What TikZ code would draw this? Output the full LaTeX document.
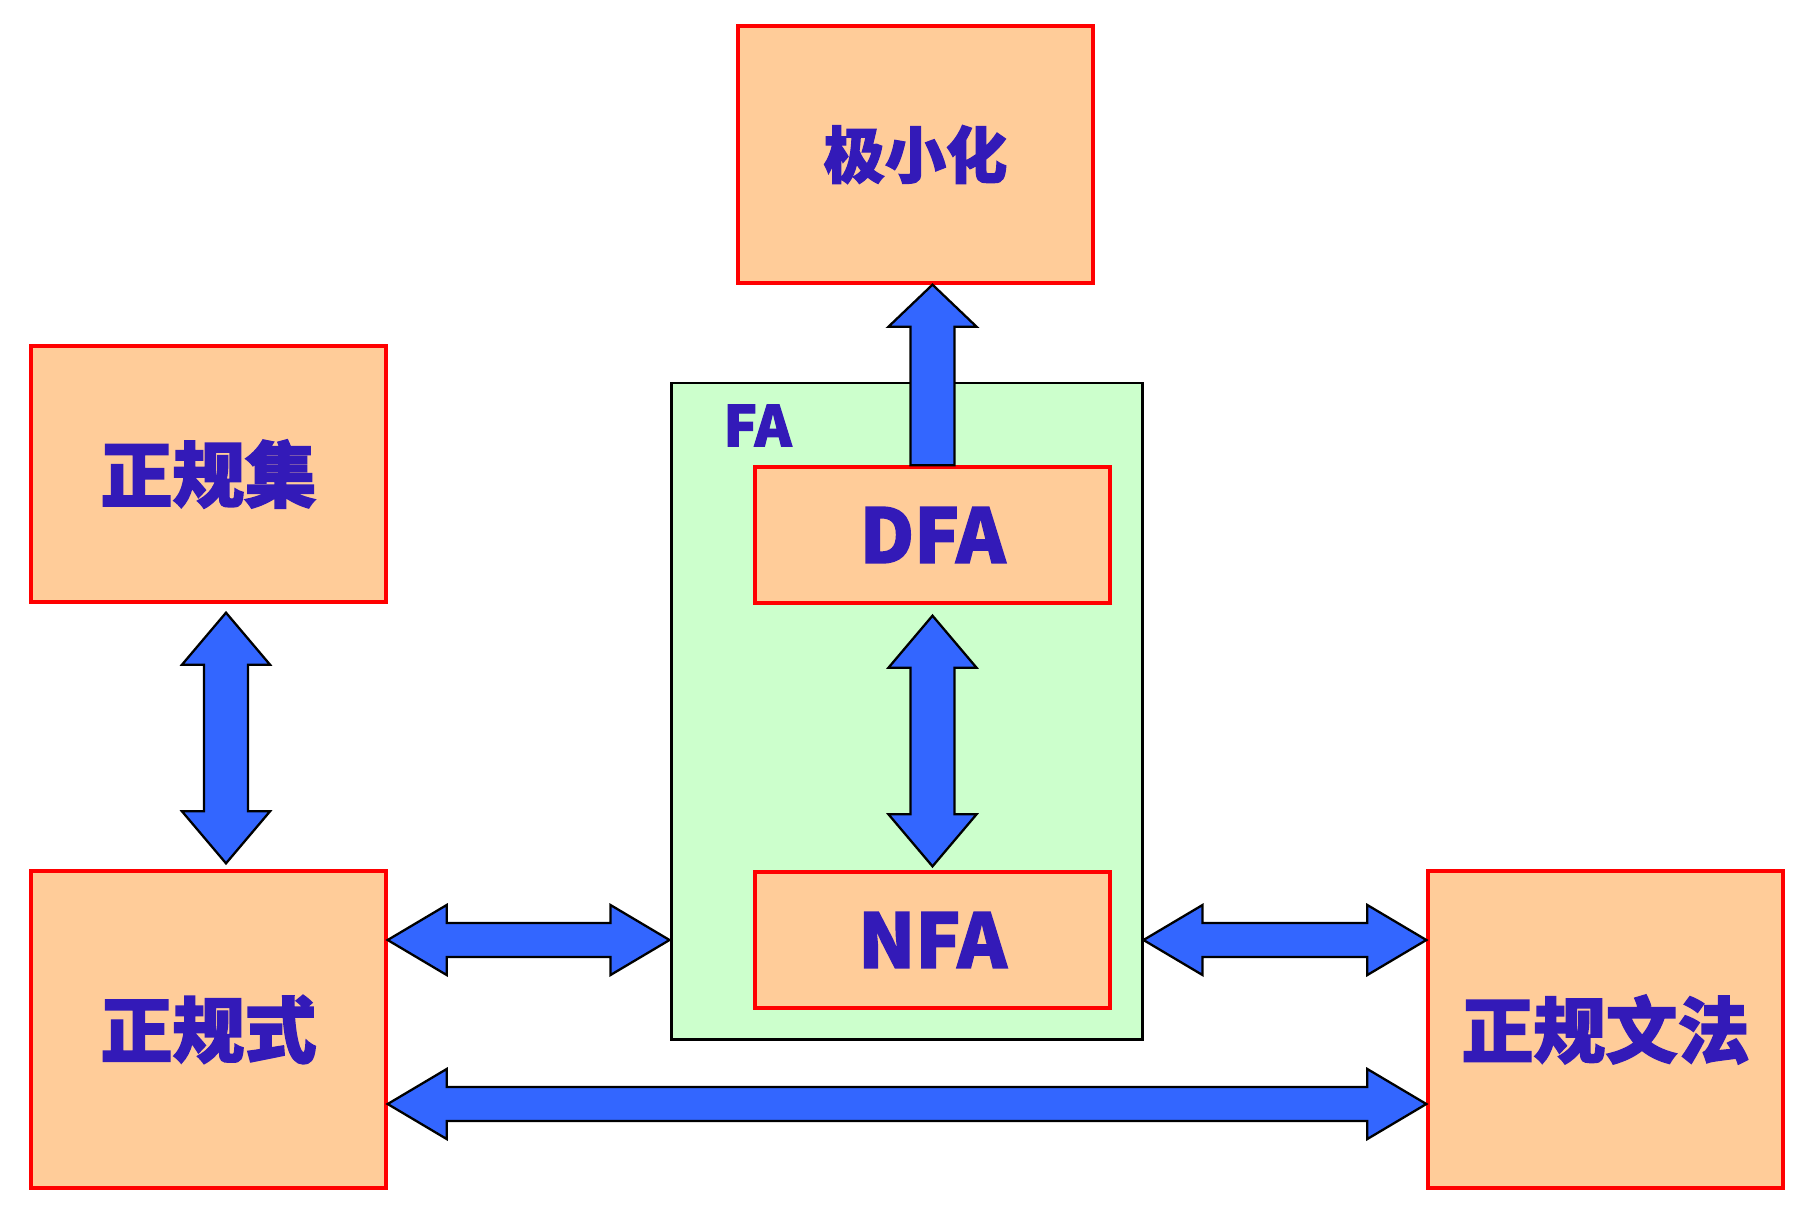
\documentclass[tikz,border=0pt]{standalone}
\usepackage{fontspec}
\newfontfamily\cjkfont{Noto Sans CJK SC}[BoldFeatures={FakeBold=2}]
\usetikzlibrary{calc}
\definecolor{peach}{RGB}{255,204,153}
\definecolor{palegreen}{RGB}{204,255,204}
\definecolor{arrowblue}{RGB}{51,102,255}
\definecolor{textblue}{RGB}{51,26,184}

\begin{document}
\begin{tikzpicture}[
    box/.style={draw=red, line width=0.95pt, fill=peach, text=textblue, inner sep=0pt,
        minimum width=3.55cm, font=\cjkfont\bfseries\fontsize{20.5}{24}\selectfont},
    tip len/.store in=\tiplen, tip half/.store in=\tiphalf, bar half/.store in=\barhalf,
    vsize/.style={tip len=0.52cm, tip half=0.44cm, bar half=0.22cm},
    hsize/.style={tip len=0.59cm, tip half=0.35cm, bar half=0.17cm},
    fat/.style={draw=black, line width=0.65pt, fill=arrowblue, line join=miter},
    dblarrow/.style={fat, to path={
        let \p1=(\tikztostart), \p2=(\tikztotarget), \n1={atan2(\y2-\y1,\x2-\x1)} in
        -- ($(\p1)+(\n1:\tiplen)+({\n1+90}:\tiphalf)$)
        -- ($(\p1)+(\n1:\tiplen)+({\n1+90}:\barhalf)$)
        -- ($(\p2)+({\n1+180}:\tiplen)+({\n1+90}:\barhalf)$)
        -- ($(\p2)+({\n1+180}:\tiplen)+({\n1+90}:\tiphalf)$)
        -- (\p2)
        -- ($(\p2)+({\n1+180}:\tiplen)+({\n1-90}:\tiphalf)$)
        -- ($(\p2)+({\n1+180}:\tiplen)+({\n1-90}:\barhalf)$)
        -- ($(\p1)+(\n1:\tiplen)+({\n1-90}:\barhalf)$)
        -- ($(\p1)+(\n1:\tiplen)+({\n1-90}:\tiphalf)$)
        -- cycle}},
    sglarrow/.style={fat, to path={
        let \p1=(\tikztostart), \p2=(\tikztotarget), \n1={atan2(\y2-\y1,\x2-\x1)} in
        -- ($(\p1)+({\n1-90}:\barhalf)$)
        -- ($(\p2)+({\n1+180}:\tiplen)+({\n1-90}:\barhalf)$)
        -- ($(\p2)+({\n1+180}:\tiplen)+({\n1-90}:\tiphalf)$)
        -- (\p2)
        -- ($(\p2)+({\n1+180}:\tiplen)+({\n1+90}:\tiphalf)$)
        -- ($(\p2)+({\n1+180}:\tiplen)+({\n1+90}:\barhalf)$)
        -- ($(\p1)+({\n1+90}:\barhalf)$)
        -- cycle}}
]
    \useasboundingbox (0,0) rectangle (18.13,12.11);

    % FA frame
    \node[draw=black, line width=0.85pt, fill=palegreen, minimum width=4.71cm, minimum height=6.56cm] (fa) at (9.065,5.0) {};
    \node[text=textblue, font=\cjkfont\bfseries\fontsize{15.9}{19}\selectfont, inner sep=0pt] (falabel) at (7.575,7.855) {FA};

    % automata
    \node[box, minimum height=1.36cm, font=\cjkfont\bfseries\fontsize{21.3}{25}\selectfont] (dfa) at (9.325,6.76) {DFA};
    \node[box, minimum height=1.36cm, font=\cjkfont\bfseries\fontsize{21.3}{25}\selectfont] (nfa) at (9.325,2.71) {NFA};

    % outer boxes
    \node[box, minimum height=2.57cm, font=\cjkfont\bfseries\fontsize{17.4}{21}\selectfont] (mini) at (9.155,10.565) {极小化};
    \node[box, minimum height=2.56cm] (set) at (2.085,7.37) {正规集};
    \node[box, minimum height=3.17cm] (expr) at (2.085,1.815) {正规式};
    \node[box, minimum height=3.17cm] (gram) at (16.055,1.815) {正规文法};

    % block arrows
    \draw[dblarrow, vsize] ([xshift=0.175cm, yshift=-0.09cm]set.south) to ([xshift=0.175cm, yshift=0.06cm]expr.north);
    \draw[dblarrow, vsize] ([yshift=-0.11cm]dfa.south) to ([yshift=0.04cm]nfa.north);
    \draw[sglarrow, vsize, tip len=0.42cm] (dfa.north) to (dfa.north |- mini.south);
    \draw[dblarrow, hsize] (expr.east |- nfa.west) to (fa.west |- nfa.west);
    \draw[dblarrow, hsize] (fa.east |- nfa.east) to (gram.west |- nfa.east);
    \draw[dblarrow, hsize] ([yshift=-0.745cm]expr.east) to ([yshift=-0.745cm]gram.west);
\end{tikzpicture}
\end{document}
